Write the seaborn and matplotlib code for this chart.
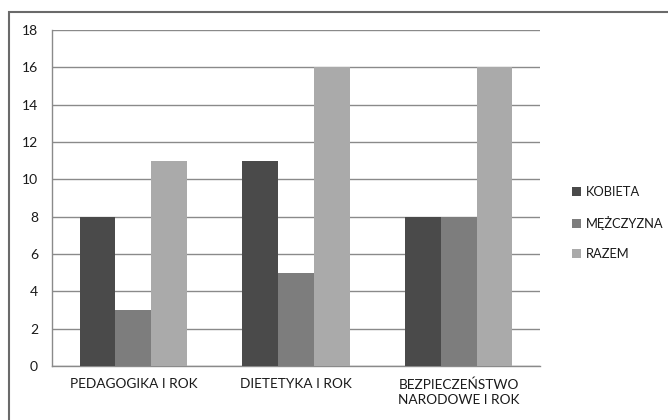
import matplotlib
matplotlib.use("Agg")
import matplotlib.pyplot as plt
import seaborn as sns
import pandas as pd
from matplotlib.patches import Rectangle, Patch
from matplotlib.ticker import FixedLocator

categories = ["PEDAGOGIKA I ROK", "DIETETYKA I ROK", "BEZPIECZEŃSTWO\nNARODOWE I ROK"]
series = ["KOBIETA", "MĘŻCZYZNA", "RAZEM"]
kobieta = [8, 11, 8]
mezczyzna = [3, 5, 8]
razem = [11, 16, 16]
colors = ["#4a4a4a", "#7d7d7d", "#aaaaaa"]

rows = []
for s, vals in zip(series, [kobieta, mezczyzna, razem]):
    for c, v in zip(categories, vals):
        rows.append({"cat": c, "series": s, "val": v})
df = pd.DataFrame(rows)

sns.set_style("white")
plt.rcParams["font.family"] = ["Lato", "DejaVu Sans"]

fig = plt.figure(figsize=(6.68, 4.2), dpi=100)
ax = fig.add_axes([52/668, 1-366/420, (540-52)/668, (366-30)/420])

sns.barplot(data=df, x="cat", y="val", hue="series", order=categories,
            hue_order=series, palette=colors, width=0.66, gap=0,
            edgecolor="none", linewidth=0, ax=ax, legend=False, zorder=3)

ax.set_ylim(0, 18)
ax.set_xlim(-0.5, 2.5)
ax.set_yticks(range(0, 19, 2))
ax.yaxis.grid(True, color="#8a8a8a", linewidth=1.0, zorder=0)
ax.set_axisbelow(True)
ax.set_xlabel("")
ax.set_ylabel("")
for side in ["top", "right"]:
    ax.spines[side].set_visible(False)
for side in ["left", "bottom"]:
    ax.spines[side].set_color("#8a8a8a")
    ax.spines[side].set_linewidth(1.0)

ax.tick_params(axis="y", which="major", length=5, color="#8a8a8a", width=1,
               labelsize=10, labelcolor="#1a1a1a", pad=5)
ax.tick_params(axis="x", which="major", length=0, labelsize=9.8, labelcolor="#1a1a1a", pad=9)
ax.xaxis.set_minor_locator(FixedLocator([-0.5, 0.5, 1.5, 2.5]))
ax.tick_params(axis="x", which="minor", length=5, color="#8a8a8a", width=1)
for lbl in ax.get_xticklabels():
    lbl.set_linespacing(1.3)

handles = [Patch(facecolor=c, edgecolor="none") for c in colors]
fig.legend(handles, series, loc="upper left", bbox_to_anchor=(560/668, 1-174/420),
           frameon=False, fontsize=9.3, handlelength=0.7, handleheight=0.7,
           handletextpad=0.4, labelspacing=1.4, labelcolor="#1a1a1a")

fig.patches.append(Rectangle((9/668, -0.1), 1.0, 1-12/420+0.1, transform=fig.transFigure,
                             fill=False, edgecolor="#6a6a6a", linewidth=1.5))

fig.savefig("out.png", dpi=100, facecolor="white")
